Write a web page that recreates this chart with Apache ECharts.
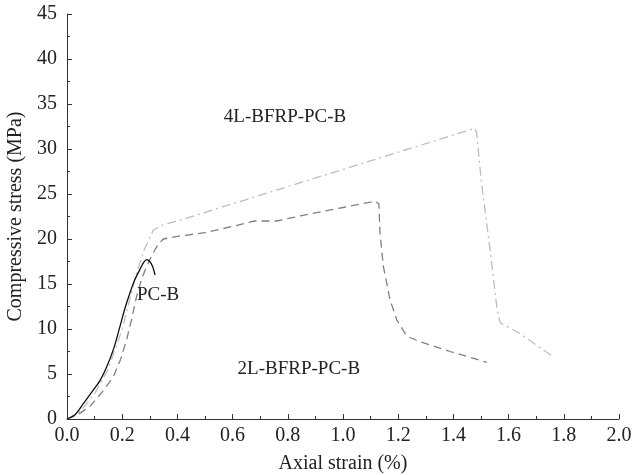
<!DOCTYPE html>
<html>
<head>
<meta charset="utf-8">
<script src="https://cdn.jsdelivr.net/npm/echarts@6/dist/echarts.min.js"></script>
<style>
  html, body { margin: 0; padding: 0; background: #fff; }
  #chart { width: 633px; height: 475px; }
</style>
</head>
<body>
<div id="chart"></div>
<script>
// [strain %, stress MPa]
const pcB = [
  [0, 0], [0.03, 0.5], [0.059, 1.7], [0.095, 3.2], [0.12, 4.3], [0.144, 5.8],
  [0.17, 7.9], [0.192, 10.3], [0.21, 12.3], [0.228, 14.0], [0.246, 15.5],
  [0.264, 16.6], [0.278, 17.4], [0.289, 17.7], [0.3, 17.5], [0.311, 16.9], [0.319, 16.0]
]
const bfrp2L = [
  [0, 0], [0.04, 0.5], [0.083, 1.4], [0.125, 2.9], [0.168, 4.7], [0.195, 6.7],
  [0.216, 8.8], [0.235, 11.2], [0.252, 13.6], [0.27, 15.5], [0.289, 17.0],
  [0.313, 18.5], [0.33, 19.4], [0.349, 20.0], [0.4, 20.3], [0.5, 20.7],
  [0.6, 21.4], [0.68, 22.0], [0.76, 22.0], [0.85, 22.6], [1.0, 23.5],
  [1.116, 24.2], [1.13, 23.9], [1.134, 20.7], [1.146, 17.0], [1.17, 13.3],
  [1.195, 11.0], [1.231, 9.2], [1.279, 8.6], [1.388, 7.5], [1.521, 6.3]
]
const bfrp4L = [
  [0, 0], [0.05, 0.9], [0.1, 2.8], [0.15, 5.6], [0.2, 10.0], [0.25, 16.0],
  [0.28, 18.8], [0.313, 21.0], [0.35, 21.6], [0.4, 22.0], [1.478, 32.3],
  [1.484, 31.8], [1.502, 26.2], [1.533, 18.8], [1.557, 12.5], [1.569, 10.7],
  [1.641, 9.5], [1.762, 6.9]
]
const seriesNames = ['PC-B', '2L-BFRP-PC-B', '4L-BFRP-PC-B']
const labelAt = [[0.33, 13.8], [0.84, 5.5], [0.79, 33.6]]

const font = 'Liberation Serif'
const chart = echarts.init(document.getElementById('chart'))

function label(i) {
  return {
    symbol: 'circle',
    symbolSize: 0,
    silent: true,
    data: [{ coord: labelAt[i] }],
    label: {
      show: true,
      position: 'inside',
      formatter: seriesNames[i],
      fontFamily: font,
      fontSize: 19,
      color: '#222'
    }
  }
}

const axisCommon = {
  nameTextStyle: { fontFamily: font, fontSize: 20, color: '#222' },
  axisLine: { lineStyle: { color: '#333', width: 1 } },
  axisTick: { inside: true, length: 5, lineStyle: { color: '#333' } },
  minorTick: { show: true, splitNumber: 2, length: 3, lineStyle: { color: '#333' } },
  axisLabel: { fontFamily: font, fontSize: 20, color: '#222' },
  splitLine: { show: false }
}

chart.setOption({
  animation: false,
  grid: { left: 67, right: 14, top: 14, bottom: 56, containLabel: false, outerBoundsMode: 'none' },
  xAxis: Object.assign({}, axisCommon, {
    type: 'value',
    min: 0, max: 2, interval: 0.2,
    name: 'Axial strain (%)',
    nameLocation: 'middle',
    nameGap: 35,
    axisLabel: Object.assign({}, axisCommon.axisLabel, {
      margin: 7,
      formatter: v => v.toFixed(1)
    })
  }),
  yAxis: Object.assign({}, axisCommon, {
    type: 'value',
    min: 0, max: 45, interval: 5,
    name: 'Compressive stress (MPa)',
    nameLocation: 'middle',
    nameGap: 35,
    axisLabel: Object.assign({}, axisCommon.axisLabel, { margin: 10 })
  }),
  series: [
    {
      name: seriesNames[2],
      type: 'line',
      data: bfrp4L,
      showSymbol: false,
      lineStyle: { color: '#bdbdbd', width: 1.3, type: [9, 4, 2, 4] },
      markPoint: label(2)
    },
    {
      name: seriesNames[1],
      type: 'line',
      data: bfrp2L,
      showSymbol: false,
      lineStyle: { color: '#808080', width: 1.3, type: [8, 5] },
      markPoint: label(1)
    },
    {
      name: seriesNames[0],
      type: 'line',
      data: pcB,
      smooth: 0.3,
      showSymbol: false,
      lineStyle: { color: '#111', width: 1.3 },
      markPoint: label(0)
    }
  ]
})
</script>
</body>
</html>
